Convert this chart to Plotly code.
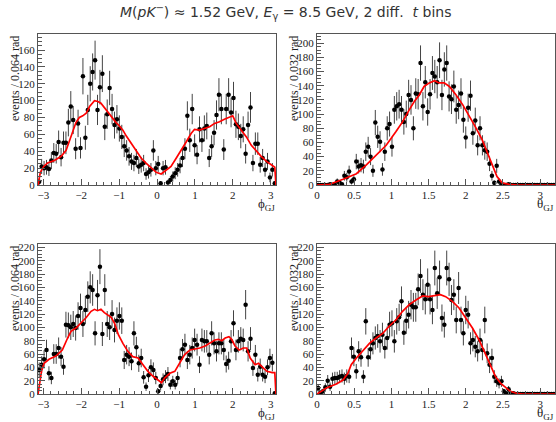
import numpy as np
import plotly.graph_objects as go

PI = np.pi

# ---- binned (weighted) event counts -------------------------------------
# phi_GJ, first t bin (98 bins over [-pi, pi])
phi_counts_t1 = [4, 22, 20, 21, 19, 29, 38, 37, 51, 33,
                 50, 50, 74, 93, 77, 43, 73, 44, 129, 56,
                 89, 120, 134, 148, 89, 116, 132, 69, 84, 115,
                 90, 71, 78, 67, 57, 46, 41, 34, 28, 26,
                 32, 22, 24, 26, 13, 15, 18, 41, 20, 25,
                 2, 20, 21, 3, 6, 10, 14, 18, 23, 32,
                 43, 82, 53, 90, 47, 36, 66, 53, 67, 70,
                 32, 46, 62, 83, 107, 90, 42, 90, 107, 86,
                 103, 72, 69, 58, 66, 37, 71, 92, 26, 49,
                 49, 24, 32, 18, 28, 9, 18, 2]

# theta_GJ, first t bin (100 bins over [0, 3.2])
theta_counts_t1 = [0, 0, 0, 0, 0, 1, 0, 0, 5, 3,
                   1, 13, 11, 19, 5, 8, 33, 26, 28, 26,
                   47, 54, 40, 20, 88, 68, 61, 22, 47, 80,
                   86, 54, 106, 111, 114, 106, 89, 100, 127, 120,
                   80, 129, 128, 172, 111, 145, 103, 128, 158, 153,
                   145, 176, 127, 163, 172, 125, 121, 139, 106, 113,
                   129, 92, 67, 109, 126, 73, 91, 56, 80, 56,
                   49, 47, 30, 13, 3, 27, 5, 1, 0, 0,
                   1, 0, 0, 0, 0, 0, 0, 0, 0, 0,
                   0, 0, 0, 0, 0, 0, 0, 0, 0, 0]

# phi_GJ, second t bin
phi_counts_t2 = [36, 44, 52, 66, 31, 24, 60, 60, 69, 56,
                 41, 104, 103, 100, 105, 99, 117, 129, 105, 126,
                 146, 160, 156, 91, 148, 191, 90, 156, 105, 100,
                 120, 96, 110, 117, 110, 51, 59, 56, 49, 91,
                 70, 46, 54, 25, 11, 28, 40, 36, 24, 4,
                 12, 22, 26, 30, 14, 19, 14, 24, 54, 67,
                 74, 51, 59, 69, 81, 74, 44, 81, 79, 79,
                 59, 91, 76, 64, 76, 76, 66, 45, 50, 79,
                 106, 66, 79, 83, 81, 134, 64, 83, 39, 59,
                 29, 41, 29, 26, 40, 54, 47, 1]

# theta_GJ, second t bin
theta_counts_t2 = [9, 2, 4, 10, 20, 11, 23, 24, 24, 26,
                   27, 23, 27, 26, 69, 56, 34, 64, 55, 26,
                   109, 55, 67, 76, 84, 87, 79, 89, 69, 84,
                   104, 106, 79, 109, 115, 139, 92, 110, 119, 134,
                   130, 130, 157, 177, 149, 142, 164, 142, 126, 189,
                   151, 175, 114, 104, 189, 172, 141, 149, 111, 159,
                   111, 91, 126, 119, 76, 81, 71, 64, 81, 66,
                   111, 61, 44, 54, 26, 19, 16, 19, 4, 1,
                   7, 1, 1, 0, 0, 0, 0, 0, 0, 0,
                   0, 0, 0, 0, 0, 0, 0, 0, 0, 0]

# ---- fit projections -----------------------------------------------------
phi_fit_t1_x = [-3.14, -3.08, -2.99, -2.89, -2.71, -2.53, -2.40, -2.31, -2.22, -2.14,
                -2.05, -1.96, -1.87, -1.78, -1.65, -1.56, -1.48, -1.34, -1.21, -1.08,
                -0.99, -0.90, -0.81, -0.68, -0.55, -0.42, -0.29, -0.15, -0.02, 0.11,
                0.24, 0.37, 0.51, 0.64, 0.77, 0.90, 0.99, 1.12, 1.26, 1.39,
                1.52, 1.65, 1.78, 1.92, 2.00, 2.09, 2.22, 2.36, 2.49, 2.62,
                2.75, 2.89, 3.02, 3.11, 3.14]
phi_fit_t1_y = [0, 15, 22, 26, 29, 34, 41, 53, 63, 74,
                80, 82, 85, 93, 100, 99, 97, 89, 81, 74,
                70, 65, 58, 49, 40, 32, 26, 20, 15, 13,
                17, 22, 32, 41, 51, 61, 66, 65, 67, 69,
                73, 75, 78, 80, 82, 73, 65, 57, 47, 40,
                34, 28, 24, 21, 0]

theta_fit_t1_x = [0.0, 0.17, 0.35, 0.53, 0.66, 0.79, 0.93, 1.06, 1.15, 1.24,
                  1.31, 1.375, 1.44, 1.51, 1.58, 1.64, 1.71, 1.78, 1.87, 1.96,
                  2.04, 2.13, 2.22, 2.29, 2.36, 2.42, 2.49, 2.58, 2.7, 3.2]
theta_fit_t1_y = [0, 1, 8, 16, 28, 41, 56, 75, 89, 106,
                  118, 127, 139, 144, 147, 144, 144, 139, 127, 113,
                  99, 82, 64, 45, 26, 12, 3, 1, 0, 0]

phi_fit_t2_x = [-3.14, -3.09, -3.05, -2.98, -2.85, -2.67, -2.50, -2.36, -2.27, -2.14,
                -2.01, -1.88, -1.74, -1.65, -1.57, -1.48, -1.39, -1.21, -1.12, -1.02,
                -0.90, -0.77, -0.64, -0.50, -0.37, -0.24, -0.11, 0.03, 0.12, 0.20,
                0.34, 0.47, 0.60, 0.73, 0.87, 1.00, 1.13, 1.27, 1.40, 1.53,
                1.62, 1.71, 1.80, 1.90, 1.97, 2.06, 2.17, 2.28, 2.37, 2.46,
                2.59, 2.68, 2.77, 2.90, 3.04, 3.11, 3.14]
phi_fit_t2_y = [0, 24, 34, 46, 52, 57, 66, 84, 94, 99,
                106, 114, 124, 127, 125, 127, 122, 115, 106, 89,
                76, 64, 56, 54, 44, 34, 27, 21, 17, 24,
                31, 34, 46, 59, 66, 67, 69, 72, 76, 81,
                82, 80, 84, 86, 82, 72, 66, 69, 69, 54,
                44, 46, 41, 34, 32, 32, 0]

theta_fit_t2_x = [0, 0.125, 0.26, 0.35, 0.415, 0.46, 0.53, 0.62, 0.705, 0.795,
                  0.884, 0.973, 1.06, 1.15, 1.24, 1.33, 1.42, 1.50, 1.58, 1.66,
                  1.73, 1.82, 1.91, 2.00, 2.09, 2.18, 2.26, 2.33, 2.40, 2.47,
                  2.54, 2.60, 2.67, 2.76, 3.2]
theta_fit_t2_y = [0, 9, 15, 21, 31, 44, 54, 66, 76, 84,
                  91, 102, 111, 124, 134, 141, 147, 146, 148, 149,
                  146, 139, 129, 114, 99, 81, 61, 44, 26, 16,
                  9, 4, 1.5, 0, 0]

# events carry weights, so the uncertainty per bin is larger than sqrt(N)
WEIGHT_ERROR_SCALE = 1.9


# ---- helpers ---------------------------------------------------------------
def bin_centers(lo, hi, n):
    w = (hi - lo) / n
    return lo + w * (np.arange(n) + 0.5)


def bin_errors(counts):
    c = np.asarray(counts, dtype=float)
    err = WEIGHT_ERROR_SCALE * np.sqrt(c)
    up = np.where(c > 0, err, 1.15)
    return up, err


W, H = 556, 422
AXIS_COLOR = "#555555"
SERIF = "Liberation Serif, Times New Roman, serif"
TICK_FONT = dict(family=SERIF, size=11, color="#222")
TITLE_FONT = dict(family=SERIF, size=12, color="#222")

panels = [
    # counts, (lo, hi), fit x, fit y, x px span, y px span, ymax, ytitle, x dtick, minor, xlabel
    (phi_counts_t1, (-PI, PI), phi_fit_t1_x, phi_fit_t1_y, (38, 276), (34, 185), 179,
     "events / 0.064 rad", 1, 0.2, "ϕ"),
    (theta_counts_t1, (0, 3.2), theta_fit_t1_x, theta_fit_t1_y, (317, 555), (34, 185), 213,
     "events / 0.032 rad", 0.5, 0.1, "θ"),
    (phi_counts_t2, (-PI, PI), phi_fit_t2_x, phi_fit_t2_y, (38, 276), (244, 394), 225,
     "events / 0.064 rad", 1, 0.2, "ϕ"),
    (theta_counts_t2, (0, 3.2), theta_fit_t2_x, theta_fit_t2_y, (317, 555), (244, 394), 225,
     "events / 0.032 rad", 0.5, 0.1, "θ"),
]

fig = go.Figure()
annotations = []
layout_axes = {}

for k, (counts, (lo, hi), fx, fy, (px0, px1), (py0, py1), ymax, ytitle, xd, xmin_d, xl) in enumerate(panels, start=1):
    xa = "x" if k == 1 else f"x{k}"
    ya = "y" if k == 1 else f"y{k}"
    xc = bin_centers(lo, hi, len(counts))
    eu, ed = bin_errors(counts)

    fig.add_trace(go.Scatter(
        x=xc, y=counts, mode="markers", xaxis=xa, yaxis=ya,
        marker=dict(color="black", size=4.5),
        error_y=dict(type="data", array=eu, arrayminus=ed, symmetric=False,
                     color="#444", thickness=1, width=0),
        showlegend=False, hoverinfo="skip", cliponaxis=True,
    ))
    fig.add_trace(go.Scatter(
        x=fx, y=fy, mode="lines", xaxis=xa, yaxis=ya,
        line=dict(color="#ff0000", width=1.7),
        showlegend=False, hoverinfo="skip",
    ))

    xdom = [px0 / W, px1 / W]
    ydom = [1 - py1 / H, 1 - py0 / H]
    xkey = "xaxis" if k == 1 else f"xaxis{k}"
    ykey = "yaxis" if k == 1 else f"yaxis{k}"
    layout_axes[xkey] = dict(
        domain=xdom, anchor=ya, range=[lo, hi], showline=True, linecolor=AXIS_COLOR,
        linewidth=1, mirror=True, ticks="inside", ticklen=6, tickcolor=AXIS_COLOR,
        tick0=0, dtick=xd, showgrid=False, zeroline=False, tickfont=TICK_FONT,
        minor=dict(ticks="inside", ticklen=3, dtick=xmin_d, tick0=0, tickcolor=AXIS_COLOR),
        automargin=False,
    )
    layout_axes[ykey] = dict(
        domain=ydom, anchor=xa, range=[0, ymax], showline=True, linecolor=AXIS_COLOR,
        linewidth=1, mirror=True, ticks="inside", ticklen=7, tickcolor=AXIS_COLOR,
        tick0=0, dtick=20, showgrid=False, zeroline=False, tickfont=TICK_FONT,
        minor=dict(ticks="inside", ticklen=3.5, dtick=5, tickcolor=AXIS_COLOR),
        automargin=False,
    )
    # y title placed along the upper part of the axis
    annotations.append(dict(
        x=(px0 - 23) / W, y=1 - (py0 + 45) / H, xref="paper", yref="paper",
        xanchor="center", yanchor="middle", showarrow=False, textangle=-90,
        text=ytitle, font=TITLE_FONT,
    ))
    # x title below the right end of the axis
    annotations.append(dict(
        x=(px1 + 1) / W, y=1 - (py1 + 19) / H, xref="paper", yref="paper",
        xanchor="right", yanchor="middle", showarrow=False,
        text=f"{xl}<sub><span style='font-size:9px'>GJ</span></sub>",
        font=dict(family=SERIF, size=13, color="#222"),
    ))

annotations.append(dict(
    x=286 / W, y=1 - 12 / H, xref="paper", yref="paper", xanchor="center", yanchor="middle",
    showarrow=False,
    text="<i>M</i>(<i>pK</i><sup>−</sup>) ≈ 1.52 GeV, <i>E</i><sub>γ</sub> = 8.5 GeV, 2 diff.  <i>t</i> bins",
    font=dict(family="DejaVu Sans, sans-serif", size=14, color="#333"),
))

fig.update_layout(
    width=W, height=H, margin=dict(l=0, r=0, t=0, b=0),
    paper_bgcolor="white", plot_bgcolor="white",
    annotations=annotations, showlegend=False,
    **layout_axes,
)

fig.write_html("out.html")
